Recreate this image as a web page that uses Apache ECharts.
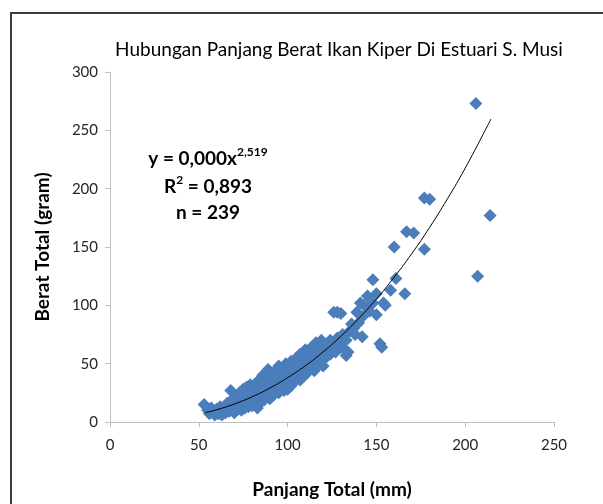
<!DOCTYPE html>
<html>
<head>
<meta charset="utf-8">
<script src="https://cdn.jsdelivr.net/npm/echarts@6/dist/echarts.min.js"></script>
<style>
  html, body { margin: 0; padding: 0; background: #fff; }
  #chart { width: 603px; height: 504px; }
</style>
</head>
<body>
<div id="chart"></div>
<script>
// panjang (mm), berat (gram)
var ikanPoints = [
  [53,15],[55,10],[56,7],[57,12],[58,8],[59,6],[60,11],[60,9],
  [61,7],[62,10],[62,13],[63,6],[64,9],[64,12],[65,8],[65,14],[66,11],[66,16],[67,9],[67,13],[68,27],[68,18],[69,10],[69,15],[70,12],[70,20],[70,8],
  [71,14],[71,22],[72,11],[72,17],[73,25],[73,13],[74,19],[74,10],[75,15],[75,28],[75,22],[76,12],[76,18],[77,30],[77,16],[78,20],[78,13],[78,25],[79,17],[79,32],[80,22],[80,14],[80,28],[80,19],
  [81,24],[81,16],[82,33],[82,20],[83,18],[83,27],[83,12],[84,22],[84,36],[85,25],[85,17],[85,30],[86,21],[86,40],[86,28],[87,24],[87,33],[87,19],[88,27],[88,38],[88,22],[89,30],[89,45],[89,25],[90,20],[90,34],[90,28],[90,42],
  [91,26],[91,37],[91,31],[92,23],[92,40],[92,33],[93,29],[93,44],[93,36],[94,27],[94,38],[95,32],[95,48],[95,25],[96,35],[96,42],[96,29],[97,38],[97,31],[97,46],[98,34],[98,27],[98,41],[99,37],[99,50],[99,31],[100,40],[100,33],[100,45],[100,28],
  [101,36],[101,48],[102,42],[102,31],[102,52],[103,38],[103,45],[104,35],[104,49],[104,41],[105,44],[105,55],[105,37],[106,40],[106,50],[107,46],[107,36],[107,58],[108,43],[108,52],[109,48],[109,39],[110,45],[110,55],[110,62],[110,50],
  [111,42],[111,58],[112,52],[112,47],[113,60],[113,55],[114,49],[114,65],[115,53],[115,44],[116,58],[116,68],[117,55],[117,62],[118,50],[118,66],[119,59],[119,70],[120,55],[120,63],[120,48],
  [121,60],[122,67],[122,56],[123,64],[124,58],[124,70],[125,62],[126,66],[126,94],[127,60],[128,72],[128,94],[129,65],[130,68],[130,93],[131,75],[132,62],[133,70],[133,57],[134,60],[135,78],[136,84],
  [137,80],[138,75],[139,94],[140,85],[141,102],[142,90],[142,73],[143,100],[145,108],[146,95],[148,122],[148,102],[150,110],[150,92],[152,67],[153,64],[154,102],[155,100],[158,113],[160,150],[161,123],[166,110],[167,163],[171,162],[177,148],[177,192],[180,191],[206,273],[207,125],[214,177]
]
// garis tren (power)
var trendPoints = [
  [53.5,7.9],[60,10.5],[70,15.4],[80,21.6],[90,29.1],[100,38.0],[110,48.2],[120,60.1],[130,73.5],
  [140,88.7],[150,105.4],[160,124.1],[170,144.5],[180,166.9],[190,191.3],[200,217.6],[214.5,259.7]
]
var xTicks = { min: 0, max: 250, interval: 50 }
var yTicks = { min: 0, max: 300, interval: 50 }

var fontName = 'Lato'
var axisGray = '#bfbfbf'
var textDark = '#262626'

var supRich = {
  a: { fontFamily: fontName, fontSize: 19, fontWeight: 'bold', color: '#000', verticalAlign: 'bottom' },
  b: { fontFamily: fontName, fontSize: 12, fontWeight: 'bold', color: '#000', verticalAlign: 'top', padding: [0, 0, 10, 0] }
}

var chart = echarts.init(document.getElementById('chart'))
var option = {
  backgroundColor: '#fff',
  animation: false,
  textStyle: { fontFamily: fontName },
  title: {
    text: 'Hubungan Panjang Berat Ikan Kiper Di Estuari S. Musi',
    left: 334,
    top: 35,
    textAlign: 'center',
    textStyle: { fontFamily: fontName, fontSize: 19, fontWeight: 'normal', color: '#000' }
  },
  graphic: [
    {
      type: 'rect',
      shape: { x: 11, y: 13, width: 700, height: 600 },
      style: { fill: 'none', stroke: '#3c3c3c', lineWidth: 2 },
      silent: true
    },
    {
      type: 'text',
      x: 208,
      y: 157,
      style: { text: '{a|y = 0,000x}{b|2,519}', rich: supRich, align: 'center', verticalAlign: 'middle' }
    },
    {
      type: 'text',
      x: 208,
      y: 185,
      style: { text: '{a|R}{b|2}{a| = 0,893}', rich: supRich, align: 'center', verticalAlign: 'middle' }
    },
    {
      type: 'text',
      x: 208,
      y: 213,
      style: {
        text: 'n = 239', fontFamily: fontName, fontSize: 19, fontWeight: 'bold', fill: '#000',
        align: 'center', verticalAlign: 'middle'
      }
    }
  ],
  grid: { left: 110, right: 49, top: 72, bottom: 82 },
  xAxis: {
    type: 'value',
    min: xTicks.min,
    max: xTicks.max,
    interval: xTicks.interval,
    name: 'Panjang Total (mm)',
    nameLocation: 'middle',
    nameGap: 58,
    nameTextStyle: { fontFamily: fontName, fontSize: 19, fontWeight: 'bold', color: '#000' },
    axisLine: { show: true, lineStyle: { color: axisGray, width: 1 } },
    axisTick: { show: true, length: 5, lineStyle: { color: axisGray } },
    axisLabel: { margin: 16, fontSize: 15, color: textDark, fontFamily: fontName },
    splitLine: { show: false }
  },
  yAxis: {
    type: 'value',
    min: yTicks.min,
    max: yTicks.max,
    interval: yTicks.interval,
    name: 'Berat Total (gram)',
    nameLocation: 'middle',
    nameGap: 58,
    nameTextStyle: { fontFamily: fontName, fontSize: 19, fontWeight: 'bold', color: '#000' },
    axisLine: { show: true, lineStyle: { color: axisGray, width: 1 } },
    axisTick: { show: true, length: 5, lineStyle: { color: axisGray } },
    axisLabel: { margin: 12, fontSize: 15, color: textDark, fontFamily: fontName },
    splitLine: { show: false }
  },
  series: [
    {
      type: 'scatter',
      symbol: 'diamond',
      symbolSize: 13,
      itemStyle: { color: '#4a7ebb', opacity: 1 },
      data: ikanPoints,
      z: 2
    },
    {
      type: 'line',
      smooth: true,
      showSymbol: false,
      lineStyle: { color: '#000', width: 1 },
      data: trendPoints,
      z: 3
    }
  ]
}
chart.setOption(option)
</script>
</body>
</html>
